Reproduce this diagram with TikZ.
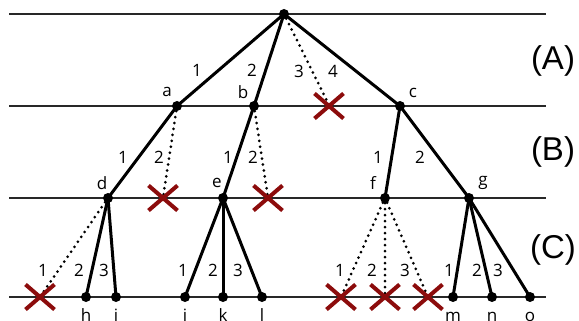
\documentclass[tikz,border=0pt]{standalone}
\usepackage{fontspec}
\setmainfont{Liberation Sans}
\newfontfamily\labfont{Open Sans}
\usetikzlibrary{shapes.misc,backgrounds,calc}
\definecolor{xred}{RGB}{140,12,12}
\definecolor{rulecol}{RGB}{40,40,40}
\begin{document}
\begin{tikzpicture}[x=1pt,y=-1pt,
  dot/.style={circle,fill=black,inner sep=0pt,minimum size=10pt},
  xmark/.style={cross out,draw=xred,line width=4pt,minimum width=25pt,minimum height=21pt,inner sep=0pt},
  edge/.style={line width=3pt},
  dead/.style={line width=3pt,dash pattern=on 0pt off 6pt,line cap=round},
  lvl/.style={line width=1.5pt,draw=rulecol},
  lab/.style={font=\labfont\fontsize{17}{17}\selectfont,inner sep=0pt},
  big/.style={font=\fontsize{33}{33}\selectfont,inner sep=0pt}]
\useasboundingbox (0,0) rectangle (579,321);

% level lines
\coordinate (L0a) at (9,14);  \coordinate (L0b) at (546,14);
\coordinate (L1a) at (9,106); \coordinate (L1b) at (546,106);
\coordinate (L2a) at (9,198); \coordinate (L2b) at (546,198);
\coordinate (L3a) at (9,297); \coordinate (L3b) at (546,297);

% nodes
\node[dot] (root) at (284,14) {};
\node[dot] (a) at (177,106) {};
\node[dot] (b) at (254,106) {};
\node[xmark] (x1) at (329,106) {};
\node[dot] (c) at (400,106) {};
\node[dot] (d) at (108,198) {};
\node[xmark] (x2) at (163,198) {};
\node[dot] (e) at (223,198) {};
\node[xmark] (x3) at (268,198) {};
\node[dot] (f) at (385,198) {};
\node[dot] (g) at (469,198) {};
\node[xmark] (x4) at (40,297) {};
\node[dot] (h) at (86,297) {};
\node[dot] (i) at (116,297) {};
\node[dot] (j) at (185,297) {};
\node[dot] (k) at (223,297) {};
\node[dot] (l) at (262,297) {};
\node[xmark] (x5) at (341,297) {};
\node[xmark] (x6) at (385,297) {};
\node[xmark] (x7) at (428,297) {};
\node[dot] (m) at (453,297) {};
\node[dot] (n) at (492,297) {};
\node[dot] (o) at (530,297) {};

\begin{scope}[on background layer]
\draw[lvl] (L0a) -- (L0b);
\draw[lvl] (L1a) -- (L1b);
\draw[lvl] (L2a) -- (L2b);
\draw[lvl] (L3a) -- (L3b);
\draw[edge] (root.center) -- (a.center);
\draw[edge] (root.center) -- (b.center);
\draw[dead] (root) -- ($(x1.center)+(-2,-5)$);
\draw[edge] (root.center) -- (c.center);
\draw[edge] (a.center) -- (d.center);
\draw[dead] (a) -- (x2.center);
\draw[edge] (b.center) -- (e.center);
\draw[dead] (b) -- (x3.center);
\draw[edge] (c.center) -- (f.center);
\draw[edge] (c.center) -- (g.center);
\draw[dead] (d) -- (x4.center);
\draw[edge] (d.center) -- (h.center);
\draw[edge] (d.center) -- (i.center);
\draw[edge] (e.center) -- (j.center);
\draw[edge] (e.center) -- (k.center);
\draw[edge] (e.center) -- (l.center);
\draw[dead] (f) -- (x5.center);
\draw[dead] (f) -- (x6.center);
\draw[dead] (f) -- (x7.center);
\draw[edge] (g.center) -- (m.center);
\draw[edge] (g.center) -- (n.center);
\draw[edge] (g.center) -- (o.center);
\end{scope}

% node names
\node[lab] (na) at (167,92) {a};
\node[lab] (nb) at (243,92) {b};
\node[lab] (nc) at (413,93) {c};
\node[lab] (nd) at (102,183) {d};
\node[lab] (ne) at (217,183) {e};
\node[lab] (nf) at (373,183) {f};
\node[lab] (ng) at (483,183) {g};
\node[lab,anchor=base] (nh) at (86,321) {h};
\node[lab,anchor=base] (ni) at (116,321) {i};
\node[lab,anchor=base] (nj) at (185,321) {j};
\node[lab,anchor=base] (nk) at (223,321) {k};
\node[lab,anchor=base] (nl) at (262,321) {l};
\node[lab,anchor=base] (nm) at (453,321) {m};
\node[lab,anchor=base] (nn) at (492,321) {n};
\node[lab,anchor=base] (no) at (530,321) {o};

% edge numbers
\node[lab] (e01) at (197,70) {1};
\node[lab] (e02) at (252,70) {2};
\node[lab] (e03) at (299,71) {3};
\node[lab] (e04) at (333,71) {4};
\node[lab] (ea1) at (123,157) {1};
\node[lab] (ea2) at (159,157) {2};
\node[lab] (eb1) at (228,157) {1};
\node[lab] (eb2) at (253,157) {2};
\node[lab] (ec1) at (378,157) {1};
\node[lab] (ec2) at (420,157) {2};
\node[lab] (ed1) at (43,270) {1};
\node[lab] (ed2) at (79,270) {2};
\node[lab] (ed3) at (104,270) {3};
\node[lab] (ee1) at (183,270) {1};
\node[lab] (ee2) at (213,270) {2};
\node[lab] (ee3) at (238,270) {3};
\node[lab] (ef1) at (340,270) {1};
\node[lab] (ef2) at (372,270) {2};
\node[lab] (ef3) at (405,270) {3};
\node[lab] (eg1) at (449,270) {1};
\node[lab] (eg2) at (477,270) {2};
\node[lab] (eg3) at (498,270) {3};

% level labels
\node[big] (A) at (553,61) {(A)};
\node[big] (B) at (553,152) {(B)};
\node[big] (C) at (553,250) {(C)};
\end{tikzpicture}
\end{document}
